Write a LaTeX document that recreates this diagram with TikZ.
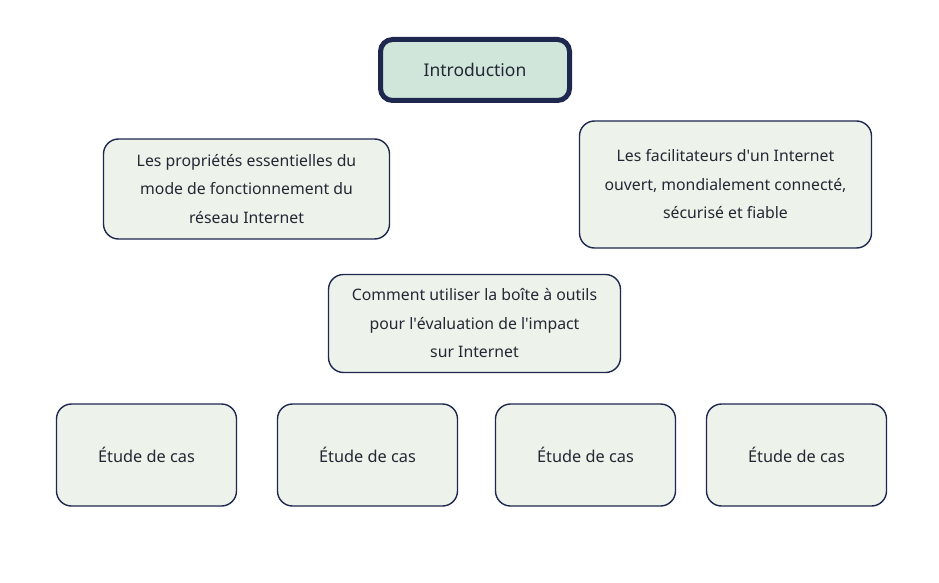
\documentclass[tikz,border=0pt]{standalone}
\usepackage{fontspec}
\setmainfont{Noto Sans}
\usepackage{tikz}
\usepackage{xcolor}
\definecolor{navy}{RGB}{30,40,78}
\definecolor{mint}{RGB}{209,230,218}
\definecolor{pale}{RGB}{237,242,234}
\definecolor{ink}{RGB}{35,40,52}
\tikzset{
  topicbox/.style={draw=navy, line width=1.4pt, fill=pale, rounded corners=15pt,
    align=center, text=ink, font=\fontsize{15.8}{28.5}\selectfont, inner sep=0pt},
  titlebox/.style={draw=navy, line width=5pt, fill=mint, rounded corners=12pt,
    align=center, text=ink, font=\fontsize{17.5}{20}\selectfont,
    minimum width=189pt, minimum height=61pt, inner sep=0pt},
  casebox/.style={topicbox, font=\fontsize{16.3}{20}\selectfont,
    minimum width=180pt, minimum height=102pt}
}
\begin{document}
\begin{tikzpicture}[x=1pt, y=-1pt]
  \useasboundingbox (0,0) rectangle (939,583);
  % title
  \node[titlebox] (intro) at (475,70) {Introduction};
  % topics
  \node[topicbox, minimum width=286pt, minimum height=100pt] (props) at (246.5,189)
    {Les propriétés essentielles du\\mode de fonctionnement du\\réseau Internet};
  \node[topicbox, minimum width=292pt, minimum height=127pt] (facil) at (725.5,184.5)
    {Les facilitateurs d\textquotesingle un Internet\\ouvert, mondialement connecté,\\sécurisé et fiable};
  \node[topicbox, minimum width=292pt, minimum height=98pt] (tools) at (474.5,323.5)
    {Comment utiliser la boîte à outils\\pour l\textquotesingle évaluation de l\textquotesingle impact\\sur Internet};
  % case studies
  \node[casebox] (caseA) at (146.5,455) {Étude de cas};
  \node[casebox] (caseB) at (367.5,455) {Étude de cas};
  \node[casebox] (caseC) at (585.5,455) {Étude de cas};
  \node[casebox] (caseD) at (796.5,455) {Étude de cas};
\end{tikzpicture}
\end{document}
